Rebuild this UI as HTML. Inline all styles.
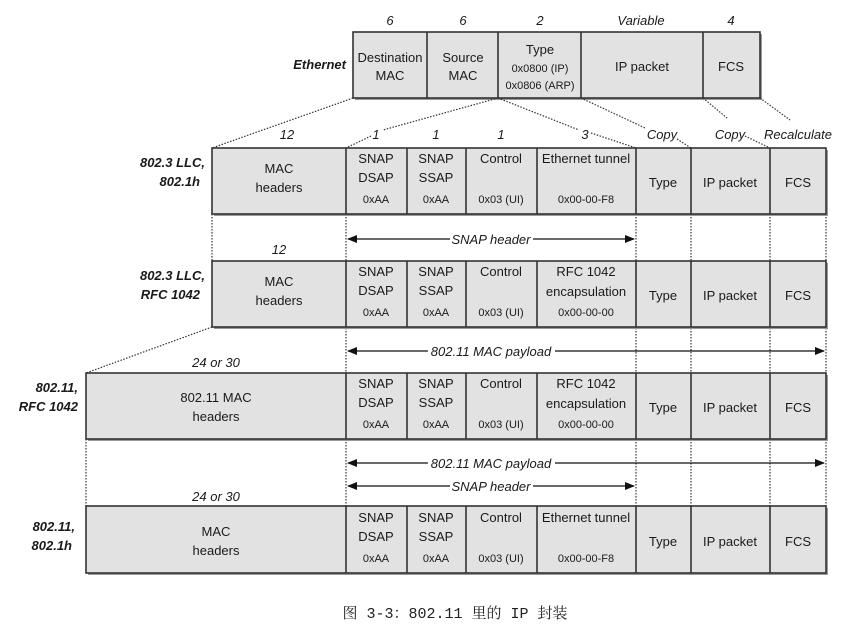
<!DOCTYPE html>
<html><head><meta charset="utf-8"><style>
html,body{margin:0;padding:0;background:#fff;}
svg{display:block;}
text{font-family:"Liberation Sans",sans-serif;fill:#1a1a1a;}
.c{text-anchor:middle;font-size:13px;}
.s{text-anchor:middle;font-size:11px;}
.i{font-style:italic;font-weight:bold;font-size:13px;}
.l{font-style:italic;font-size:13px;}
.box{fill:#e2e2e2;stroke:#333;stroke-width:1.6;}
.dl{stroke:#333;stroke-width:1.2;stroke-dasharray:1.5,1.5;fill:none;}
.sh{fill:#999;}
</style></head><body>
<svg width="851" height="631" viewBox="0 0 851 631" xmlns="http://www.w3.org/2000/svg">
<defs><marker id="a" markerWidth="10" markerHeight="8" refX="9" refY="4" orient="auto" markerUnits="userSpaceOnUse"><path d="M0,0 L10,4 L0,8 z" fill="#111"/></marker>
<marker id="b" markerWidth="10" markerHeight="8" refX="1" refY="4" orient="auto" markerUnits="userSpaceOnUse"><path d="M10,0 L0,4 L10,8 z" fill="#111"/></marker></defs>

<!-- Ethernet row -->
<rect class="sh" x="355" y="34" width="407" height="66"/>
<rect class="box" x="353" y="32" width="407" height="66"/>
<g stroke="#333" stroke-width="1.6"><line x1="427" y1="32" x2="427" y2="98"/><line x1="498" y1="32" x2="498" y2="98"/><line x1="581" y1="32" x2="581" y2="98"/><line x1="703" y1="32" x2="703" y2="98"/></g>
<text class="l" x="390" y="25" text-anchor="middle">6</text>
<text class="l" x="463" y="25" text-anchor="middle">6</text>
<text class="l" x="540" y="25" text-anchor="middle">2</text>
<text class="l" x="641" y="25" text-anchor="middle">Variable</text>
<text class="l" x="731" y="25" text-anchor="middle">4</text>
<text class="i" x="346" y="69" text-anchor="end">Ethernet</text>
<text class="c" x="390" y="62">Destination</text><text class="c" x="390" y="80">MAC</text>
<text class="c" x="463" y="62">Source</text><text class="c" x="463" y="80">MAC</text>
<text class="c" x="540" y="54">Type</text><text class="s" x="540" y="72">0x0800 (IP)</text><text class="s" x="540" y="89">0x0806 (ARP)</text>
<text class="c" x="642" y="71">IP packet</text>
<text class="c" x="731" y="71">FCS</text>

<!-- connectors top -->
<line class="dl" x1="353" y1="98" x2="212" y2="148"/>
<polyline class="dl" points="498,98 383,130"/><polyline class="dl" points="371,136 346,148"/>
<polyline class="dl" points="498,98 579,130"/><polyline class="dl" points="591,133 636,148"/>
<polyline class="dl" points="581,98 645,128"/><polyline class="dl" points="677,139 691,148"/>
<polyline class="dl" points="703,98 727,118"/><polyline class="dl" points="745,136 770,148"/>
<polyline class="dl" points="760,98 790,120"/>
<text class="l" x="287" y="139" text-anchor="middle">12</text>
<text class="l" x="376" y="139" text-anchor="middle">1</text>
<text class="l" x="436" y="139" text-anchor="middle">1</text>
<text class="l" x="501" y="139" text-anchor="middle">1</text>
<text class="l" x="585" y="139" text-anchor="middle">3</text>
<text class="l" x="662" y="139" text-anchor="middle">Copy</text>
<text class="l" x="730" y="139" text-anchor="middle">Copy</text>
<text class="l" x="798" y="139" text-anchor="middle">Recalculate</text>

<!-- vertical dotted -->
<g class="dl">
<line x1="212" y1="214" x2="212" y2="261"/>
<line x1="346" y1="214" x2="346" y2="506"/>
<line x1="636" y1="214" x2="636" y2="506"/>
<line x1="691" y1="214" x2="691" y2="506"/>
<line x1="770" y1="214" x2="770" y2="506"/>
<line x1="826" y1="214" x2="826" y2="506"/>
<line x1="86" y1="439" x2="86" y2="506"/>
<line x1="212" y1="327" x2="86" y2="373"/>
</g>

<!-- Row 1 -->
<g>
<rect class="sh" x="214" y="150" width="614" height="66"/>
<rect class="box" x="212" y="148" width="614" height="66"/>
<g stroke="#333" stroke-width="1.6"><line x1="346" y1="148" x2="346" y2="214"/><line x1="407" y1="148" x2="407" y2="214"/><line x1="466" y1="148" x2="466" y2="214"/><line x1="537" y1="148" x2="537" y2="214"/><line x1="636" y1="148" x2="636" y2="214"/><line x1="691" y1="148" x2="691" y2="214"/><line x1="770" y1="148" x2="770" y2="214"/></g>
<text class="i" x="205" y="167" text-anchor="end">802.3 LLC,</text><text class="i" x="200" y="186" text-anchor="end">802.1h</text>
<text class="c" x="279" y="173">MAC</text><text class="c" x="279" y="192">headers</text>
<text class="c" x="376" y="163">SNAP</text><text class="c" x="376" y="182">DSAP</text><text class="s" x="376" y="203">0xAA</text>
<text class="c" x="436" y="163">SNAP</text><text class="c" x="436" y="182">SSAP</text><text class="s" x="436" y="203">0xAA</text>
<text class="c" x="501" y="163">Control</text><text class="s" x="501" y="203">0x03 (UI)</text>
<text class="c" x="586" y="163">Ethernet tunnel</text><text class="s" x="586" y="203">0x00-00-F8</text>
<text class="c" x="663" y="187">Type</text><text class="c" x="730" y="187">IP packet</text><text class="c" x="798" y="187">FCS</text>
</g>

<line x1="348" y1="239" x2="450" y2="239" stroke="#111" stroke-width="1.2" marker-start="url(#b)"/>
<line x1="533" y1="239" x2="634" y2="239" stroke="#111" stroke-width="1.2" marker-end="url(#a)"/>
<text class="l" x="491" y="244" text-anchor="middle">SNAP header</text>
<text class="l" x="279" y="254" text-anchor="middle">12</text>

<!-- Row 2 -->
<g>
<rect class="sh" x="214" y="263" width="614" height="66"/>
<rect class="box" x="212" y="261" width="614" height="66"/>
<g stroke="#333" stroke-width="1.6"><line x1="346" y1="261" x2="346" y2="327"/><line x1="407" y1="261" x2="407" y2="327"/><line x1="466" y1="261" x2="466" y2="327"/><line x1="537" y1="261" x2="537" y2="327"/><line x1="636" y1="261" x2="636" y2="327"/><line x1="691" y1="261" x2="691" y2="327"/><line x1="770" y1="261" x2="770" y2="327"/></g>
<text class="i" x="205" y="280" text-anchor="end">802.3 LLC,</text><text class="i" x="200" y="299" text-anchor="end">RFC 1042</text>
<text class="c" x="279" y="286">MAC</text><text class="c" x="279" y="305">headers</text>
<text class="c" x="376" y="276">SNAP</text><text class="c" x="376" y="295">DSAP</text><text class="s" x="376" y="316">0xAA</text>
<text class="c" x="436" y="276">SNAP</text><text class="c" x="436" y="295">SSAP</text><text class="s" x="436" y="316">0xAA</text>
<text class="c" x="501" y="276">Control</text><text class="s" x="501" y="316">0x03 (UI)</text>
<text class="c" x="586" y="276">RFC 1042</text><text class="c" x="586" y="296">encapsulation</text><text class="s" x="586" y="316">0x00-00-00</text>
<text class="c" x="663" y="300">Type</text><text class="c" x="730" y="300">IP packet</text><text class="c" x="798" y="300">FCS</text>
</g>

<line x1="348" y1="351" x2="428" y2="351" stroke="#111" stroke-width="1.2" marker-start="url(#b)"/>
<line x1="555" y1="351" x2="824" y2="351" stroke="#111" stroke-width="1.2" marker-end="url(#a)"/>
<text class="l" x="491" y="356" text-anchor="middle">802.11 MAC payload</text>
<text class="l" x="216" y="367" text-anchor="middle">24 or 30</text>

<!-- Row 3 -->
<g>
<rect class="sh" x="88" y="375" width="740" height="66"/>
<rect class="box" x="86" y="373" width="740" height="66"/>
<g stroke="#333" stroke-width="1.6"><line x1="346" y1="373" x2="346" y2="439"/><line x1="407" y1="373" x2="407" y2="439"/><line x1="466" y1="373" x2="466" y2="439"/><line x1="537" y1="373" x2="537" y2="439"/><line x1="636" y1="373" x2="636" y2="439"/><line x1="691" y1="373" x2="691" y2="439"/><line x1="770" y1="373" x2="770" y2="439"/></g>
<text class="i" x="78" y="392" text-anchor="end">802.11,</text><text class="i" x="78" y="411" text-anchor="end">RFC 1042</text>
<text class="c" x="216" y="402">802.11 MAC</text><text class="c" x="216" y="421">headers</text>
<text class="c" x="376" y="388">SNAP</text><text class="c" x="376" y="407">DSAP</text><text class="s" x="376" y="428">0xAA</text>
<text class="c" x="436" y="388">SNAP</text><text class="c" x="436" y="407">SSAP</text><text class="s" x="436" y="428">0xAA</text>
<text class="c" x="501" y="388">Control</text><text class="s" x="501" y="428">0x03 (UI)</text>
<text class="c" x="586" y="388">RFC 1042</text><text class="c" x="586" y="408">encapsulation</text><text class="s" x="586" y="428">0x00-00-00</text>
<text class="c" x="663" y="412">Type</text><text class="c" x="730" y="412">IP packet</text><text class="c" x="798" y="412">FCS</text>
</g>

<line x1="348" y1="463" x2="428" y2="463" stroke="#111" stroke-width="1.2" marker-start="url(#b)"/>
<line x1="555" y1="463" x2="824" y2="463" stroke="#111" stroke-width="1.2" marker-end="url(#a)"/>
<text class="l" x="491" y="468" text-anchor="middle">802.11 MAC payload</text>
<line x1="348" y1="486" x2="450" y2="486" stroke="#111" stroke-width="1.2" marker-start="url(#b)"/>
<line x1="533" y1="486" x2="634" y2="486" stroke="#111" stroke-width="1.2" marker-end="url(#a)"/>
<text class="l" x="491" y="491" text-anchor="middle">SNAP header</text>
<text class="l" x="216" y="501" text-anchor="middle">24 or 30</text>

<!-- Row 4 -->
<g>
<rect class="sh" x="88" y="508" width="740" height="67"/>
<rect class="box" x="86" y="506" width="740" height="67"/>
<g stroke="#333" stroke-width="1.6"><line x1="346" y1="506" x2="346" y2="573"/><line x1="407" y1="506" x2="407" y2="573"/><line x1="466" y1="506" x2="466" y2="573"/><line x1="537" y1="506" x2="537" y2="573"/><line x1="636" y1="506" x2="636" y2="573"/><line x1="691" y1="506" x2="691" y2="573"/><line x1="770" y1="506" x2="770" y2="573"/></g>
<text class="i" x="75" y="531" text-anchor="end">802.11,</text><text class="i" x="72" y="550" text-anchor="end">802.1h</text>
<text class="c" x="216" y="536">MAC</text><text class="c" x="216" y="555">headers</text>
<text class="c" x="376" y="522">SNAP</text><text class="c" x="376" y="541">DSAP</text><text class="s" x="376" y="562">0xAA</text>
<text class="c" x="436" y="522">SNAP</text><text class="c" x="436" y="541">SSAP</text><text class="s" x="436" y="562">0xAA</text>
<text class="c" x="501" y="522">Control</text><text class="s" x="501" y="562">0x03 (UI)</text>
<text class="c" x="586" y="522">Ethernet tunnel</text><text class="s" x="586" y="562">0x00-00-F8</text>
<text class="c" x="663" y="546">Type</text><text class="c" x="730" y="546">IP packet</text><text class="c" x="798" y="546">FCS</text>
</g>

<text x="455" y="618" text-anchor="middle" style="font-family:'Liberation Mono','Noto Serif CJK SC',monospace;font-size:15px;fill:#222;">图 3-3：802.11 里的 IP 封装</text>
</svg>
</body></html>
